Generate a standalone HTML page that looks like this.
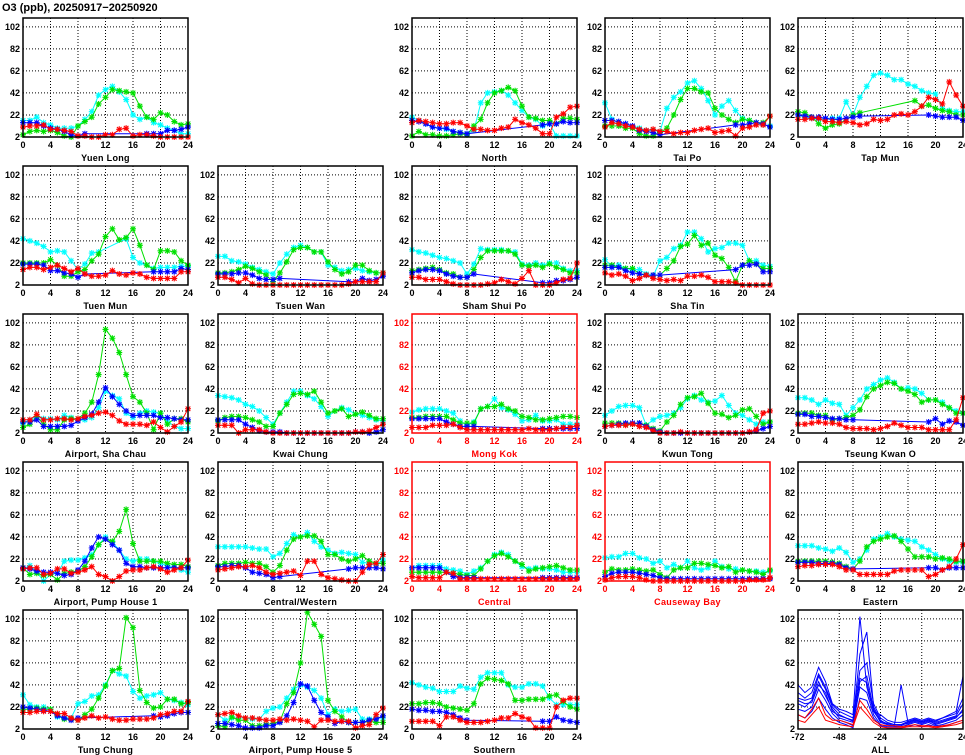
<!DOCTYPE html>
<html><head><meta charset="utf-8">
<style>
html,body{margin:0;padding:0;background:#fff;}
svg{display:block;font-family:"Liberation Sans",sans-serif;}
</style></head>
<body>
<svg id="chart" width="965" height="755" viewBox="0 0 965 755">
<text x="2" y="11" font-size="11" font-weight="bold" fill="#000">O3 (ppb), 20250917−20250920</text>
</svg>
<script>
const STATIONS = ["Yuen Long","North","Tai Po","Tap Mun","Tuen Mun","Tsuen Wan","Sham Shui Po","Sha Tin","Airport, Sha Chau","Kwai Chung","Mong Kok","Kwun Tong","Tseung Kwan O","Airport, Pump House 1","Central/Western","Central","Causeway Bay","Eastern","Tung Chung","Airport, Pump House 5","Southern"];
const ROADSIDE = ["Mong Kok","Central","Causeway Bay"];
const X_TICKS = [0,4,8,12,16,20,24];
const Y_TICKS = [2,22,42,62,82,102];
const ALL_X_TICKS = [-72,-48,-24,0,24];
const N = null;
const CYAN = [
[17,17,20,15,13,10,10,10,12,18,25,40,45,48,43,36,22,18,20,15,13,10,8,5,5],
[20,17,14,11,10,9,7,6,5,8,33,42,43,44,40,33,26,20,18,12,14,3,3,3,3],
[33,18,15,14,12,10,8,8,7,28,38,43,51,53,46,35,22,30,35,26,19,17,15,13,12],
[22,20,19,18,18,19,19,34,22,38,48,58,60,58,54,54,50,48,44,42,41,28,26,25,25],
[44,42,40,37,32,33,32,24,16,21,31,32,N,N,N,44,27,22,20,17,18,18,18,19,19],
[28,28,24,23,21,18,16,14,12,22,30,36,38,36,32,32,20,18,15,16,17,15,14,13,13],
[34,32,31,29,27,26,24,22,12,21,35,34,34,34,33,32,21,20,22,20,22,22,17,15,15],
[25,19,20,17,16,16,12,10,24,27,35,38,50,50,44,32,35,36,40,40,38,24,24,20,19],
[11,14,17,15,15,14,18,16,13,14,16,25,40,36,33,20,16,20,22,21,20,13,8,6,6],
[36,35,34,32,28,26,22,16,10,20,30,40,40,36,33,26,17,22,25,23,19,18,16,14,13],
[21,23,24,24,24,22,20,13,9,12,24,26,33,25,23,19,13,14,18,13,13,14,10,10,10],
[18,22,26,27,27,25,9,14,17,18,20,25,33,36,32,30,31,36,27,20,18,14,10,12,12],
[34,34,32,28,32,29,28,18,25,32,42,46,50,52,48,42,43,42,38,32,32,30,25,22,20],
[13,16,10,2,8,9,20,21,21,23,26,35,42,37,30,22,20,22,22,20,18,16,14,12,10],
[33,33,33,33,33,32,31,31,24,27,36,44,42,46,38,33,30,27,28,27,26,19,18,17,21],
[14,16,16,16,16,13,12,11,8,11,14,20,26,28,26,20,15,13,14,13,13,12,10,10,10],
[23,24,24,27,27,23,22,18,20,14,17,14,20,14,12,14,20,15,13,13,12,11,11,10,11],
[34,34,34,32,31,29,32,28,19,22,30,40,42,45,42,40,39,38,33,30,26,22,20,19,19],
[33,24,22,22,20,13,12,12,25,27,32,33,42,55,52,50,36,30,32,33,35,29,28,26,24],
[15,10,12,12,12,11,11,18,21,22,30,38,42,40,37,30,15,20,18,19,20,11,11,12,12],
[44,42,40,39,36,36,36,41,39,38,49,53,53,53,42,40,40,43,43,41,30,24,24,24,24]
];
const GREEN = [
[4,7,8,7,8,6,3,2,12,16,20,32,38,45,44,43,42,30,20,18,24,22,16,13,14],
[3,7,4,4,3,3,4,5,4,12,18,33,42,44,47,44,30,20,19,17,17,14,19,19,18],
[12,12,12,10,10,5,3,3,6,10,22,36,46,46,43,42,28,22,18,15,18,17,15,15,21],
[25,24,20,14,10,13,14,N,22,24,N,N,N,N,N,N,N,35,30,31,28,26,25,22,22],
[22,22,22,22,25,20,10,10,14,16,24,30,46,53,43,45,53,38,20,16,33,33,32,24,20],
[13,13,14,16,19,17,14,11,5,13,23,34,36,36,32,32,23,16,12,14,20,20,15,13,13],
[15,16,17,18,16,13,12,9,9,16,27,33,33,33,33,30,20,19,20,18,21,18,16,13,13],
[20,20,18,17,17,12,11,11,11,17,24,37,39,47,38,40,29,26,18,5,20,24,21,17,17],
[7,10,17,10,5,5,14,15,15,20,30,55,96,88,75,55,35,30,20,5,20,10,15,15,12],
[13,16,17,17,16,14,12,8,8,20,28,37,38,37,40,30,20,22,24,17,19,21,18,15,15],
[16,16,17,17,17,17,14,11,11,11,24,26,26,28,24,22,17,16,14,14,15,16,17,17,16],
[11,11,11,10,10,11,9,6,4,12,18,28,34,35,38,29,20,19,16,18,23,24,17,10,12],
[20,20,20,18,18,14,15,16,18,23,35,42,45,48,47,42,40,37,30,32,32,28,25,20,20],
[14,8,9,7,8,3,9,10,11,15,24,35,40,38,47,67,36,20,20,20,20,18,17,17,15],
[16,18,18,18,19,18,18,15,10,16,30,40,42,43,43,38,26,26,22,20,22,25,20,18,18],
[10,10,10,10,10,10,9,8,7,7,13,20,25,27,24,20,17,11,13,14,15,16,14,12,12],
[10,13,12,12,13,12,11,12,8,5,12,14,14,18,18,17,16,14,15,10,12,11,10,8,12],
[20,20,20,20,20,19,18,15,13,20,33,38,40,42,43,38,31,24,24,24,22,23,22,20,20],
[20,20,21,20,20,15,11,11,10,15,20,30,41,55,57,103,94,37,26,21,22,29,29,25,26],
[5,4,13,10,10,5,5,6,7,9,25,35,62,108,97,86,28,18,13,8,8,8,9,8,8],
[25,25,26,26,25,22,21,20,19,25,43,48,47,46,43,28,28,29,29,29,32,33,27,22,20]
];
const BLUE = [
[15,15,15,12,10,9,7,4,3,5,N,N,N,N,N,N,N,N,5,5,5,8,8,9,11],
[17,16,14,11,10,10,7,6,5,N,N,N,N,N,N,N,N,N,N,13,14,14,16,15,15],
[17,17,16,14,12,8,7,6,4,N,N,N,N,N,N,N,N,N,N,13,13,14,15,14,11],
[22,21,20,20,19,18,18,19,20,21,N,N,N,N,N,N,N,N,N,22,21,20,20,20,17],
[21,21,21,20,15,15,13,12,9,12,N,N,N,N,N,N,N,N,N,14,14,14,14,17,16],
[12,12,12,13,13,11,8,7,7,8,N,N,N,N,N,N,N,N,N,5,5,8,6,7,10],
[13,15,16,16,15,12,10,9,9,12,N,N,N,N,N,N,N,N,N,4,4,6,6,7,9],
[18,18,18,15,13,12,11,11,11,N,N,N,N,N,N,N,N,N,N,16,20,20,21,14,14],
[12,12,14,8,8,8,8,9,13,16,19,30,43,35,28,22,18,18,18,18,16,16,15,14,14],
[14,14,14,14,10,7,4,3,3,3,2,2,2,2,2,2,2,2,2,2,3,3,2,3,5],
[15,15,15,15,15,12,10,8,8,8,N,N,N,N,N,N,N,N,N,6,6,6,6,6,6],
[8,9,10,11,11,11,8,5,3,2,2,2,2,2,2,2,2,2,2,2,2,3,4,6,8],
[19,19,17,17,16,15,15,14,14,N,N,N,N,N,N,N,N,N,N,12,15,10,13,12,9],
[14,13,11,10,10,9,7,8,12,20,32,42,40,35,30,18,15,15,14,14,14,14,14,14,14],
[15,15,16,16,14,10,9,8,5,6,N,N,N,N,N,N,N,N,N,13,14,14,14,14,13],
[14,14,14,14,14,10,6,5,5,5,N,N,N,N,N,N,N,N,N,5,5,5,5,5,5],
[6,9,10,10,10,9,8,7,5,4,4,4,4,4,4,4,4,4,4,4,4,4,4,4,4],
[19,19,19,18,18,18,17,14,13,N,N,N,N,N,N,N,N,N,N,14,14,12,14,14,14],
[22,21,20,19,18,14,12,10,12,N,N,N,N,N,N,N,N,N,N,14,13,14,16,17,17],
[7,7,6,5,3,3,3,5,5,8,14,26,43,41,28,17,13,7,9,8,8,8,10,11,14],
[20,19,19,18,18,17,15,12,10,N,N,N,N,N,N,N,N,N,N,9,9,13,10,9,8]
];
const RED = [
[11,12,12,13,9,9,8,7,3,3,2,2,4,4,9,10,3,4,4,3,2,2,2,2,2],
[15,17,16,15,14,14,15,15,12,9,9,8,8,10,11,18,15,13,10,5,5,20,23,29,30],
[11,15,14,12,11,9,8,9,7,7,5,6,6,8,9,10,6,7,8,3,10,11,13,13,21],
[18,18,19,19,16,16,15,16,15,13,14,18,17,18,22,23,22,25,30,38,36,32,52,40,30],
[16,18,18,16,18,20,17,14,17,12,10,10,11,15,12,11,13,12,9,8,8,8,8,14,14],
[9,9,7,4,8,3,2,2,2,2,2,2,2,2,2,2,2,2,2,3,5,5,5,5,13],
[9,9,7,7,7,5,3,2,2,2,2,3,4,7,5,3,8,15,2,2,2,4,7,8,22],
[13,11,12,10,6,8,11,8,7,6,7,6,10,10,11,9,5,5,5,4,2,2,2,2,2],
[14,14,19,14,14,15,15,14,15,17,18,20,21,18,13,10,10,10,9,12,7,3,8,12,24],
[9,9,9,2,5,5,5,3,2,2,2,2,2,2,2,2,2,2,2,2,3,3,4,7,10],
[7,7,7,9,9,9,10,7,5,5,5,5,5,5,5,5,5,6,5,5,5,6,7,7,9],
[8,9,9,9,10,8,7,4,2,2,2,3,2,2,2,2,2,2,2,2,2,3,5,20,22],
[10,10,11,12,11,11,10,7,6,6,6,5,6,8,11,9,7,7,7,5,5,5,5,14,34],
[13,14,14,8,9,13,13,9,10,12,15,8,6,2,6,11,12,12,14,15,13,10,12,14,21],
[12,13,14,15,15,16,14,10,8,9,10,11,7,20,20,8,5,4,3,2,2,10,17,18,26],
[6,5,5,5,5,10,9,4,4,4,4,4,4,4,4,4,4,4,4,4,4,4,4,4,4],
[3,5,6,6,6,5,3,2,2,2,2,2,2,2,2,2,2,2,2,2,2,3,3,3,5],
[15,16,16,17,17,17,15,12,12,8,8,8,8,8,11,12,12,12,12,6,8,12,15,22,35],
[17,17,18,18,18,16,16,12,10,12,14,12,13,11,10,10,11,11,11,12,15,16,18,18,27],
[15,16,17,14,12,12,11,10,10,11,10,11,10,9,4,10,10,9,9,9,3,5,6,15,21],
[9,9,9,9,5,13,13,10,8,8,8,9,10,12,12,16,13,11,3,3,3,22,28,30,30]
];
const ALL_HOURS = [-72,-68,-64,-60,-56,-52,-48,-44,-40,-36,-32,-28,-24,-20,-16,-12,-8,-4,0,4,8,12,16,20,24];
const ALL_BLUE = [
[42,35,40,58,45,25,20,18,15,104,40,18,15,10,8,8,10,12,10,12,10,12,15,18,50],
[30,28,30,50,38,22,15,12,10,70,90,22,10,6,5,5,8,10,8,10,8,10,12,14,25],
[25,22,28,45,32,20,12,10,8,45,50,20,8,6,5,42,8,10,8,10,6,8,10,12,20],
[20,18,22,38,28,16,10,8,5,40,35,15,6,4,4,4,6,8,6,8,5,6,8,10,15],
[15,12,18,30,20,12,8,6,3,30,28,12,5,3,3,3,4,6,4,6,4,4,6,8,10],
[35,30,35,52,40,24,18,15,12,55,62,25,12,8,6,6,9,11,9,11,9,12,14,16,30],
[28,25,26,42,35,18,14,12,9,48,44,18,9,7,6,6,7,9,7,9,7,9,11,13,18]
];
const ALL_RED = [
[15,12,20,30,15,10,10,8,6,28,20,10,6,5,5,4,5,6,5,5,4,5,6,8,10],
[10,8,15,22,10,8,6,5,4,22,15,8,4,3,3,3,4,4,4,4,3,4,5,6,8]
];

// layout (not data)
const COL_X = [23,218,412,605,798];
const ROW_Y = [18,166,314,462,610];
const PW = 165, PH = 119, YMIN = 2, YMAX = 110;
const SLOTS = [[0,0],[0,2],[0,3],[0,4],[1,0],[1,1],[1,2],[1,3],[2,0],[2,1],[2,2],[2,3],[2,4],[3,0],[3,1],[3,2],[3,3],[3,4],[4,0],[4,1],[4,2]];
const COLORS = {c:"#00ffff", g:"#00e000", b:"#0000ff", r:"#ff0000"};

const NS = "http://www.w3.org/2000/svg";
const svg = document.getElementById("chart");
function mk(tag, attrs, parent){
  const e = document.createElementNS(NS, tag);
  for (const k in attrs) e.setAttribute(k, attrs[k]);
  (parent||svg).appendChild(e);
  return e;
}
function slug(s){return s.toLowerCase().replace(/[^a-z0-9]+/g,'-').replace(/^-|-$/g,'');}

function drawFrame(g, x0, y0, xMin, xMax, xticks, label, fc, name){
  const xs = v => x0 + (v - xMin)/(xMax - xMin)*PW;
  const ys = v => y0 + PH - (v - YMIN)/(YMAX - YMIN)*PH;
  mk("rect",{x:x0,y:y0,width:PW,height:PH,fill:"#fff"},g);
  xticks.forEach(t=>{ if(t>xMin && t<xMax){
    const l = mk("line",{x1:xs(t),x2:xs(t),y1:y0,y2:y0+PH,stroke:"#000","stroke-width":1,"stroke-dasharray":"1,2"},g);
    
    
  }});
  Y_TICKS.forEach(t=>{ if(t>YMIN){
    const l = mk("line",{x1:x0,x2:x0+PW,y1:ys(t),y2:ys(t),stroke:"#000","stroke-width":1,"stroke-dasharray":"1,2"},g);
    
    
  }});
  Y_TICKS.forEach(t=>{
    const tx = mk("text",{x:x0-3,y:ys(t)+3,"font-size":9,"font-weight":"bold","text-anchor":"end",fill:fc},g);
    tx.textContent = t;
    
    
  });
  xticks.forEach(t=>{
    const tx = mk("text",{x:xs(t),y:y0+PH+11,"font-size":9,"font-weight":"bold","text-anchor":"middle",fill:fc},g);
    tx.textContent = t;
    
    
  });
  const lb = mk("text",{x:x0+PW/2,y:y0+PH+24,"font-size":9,"font-weight":"bold","text-anchor":"middle",fill:fc,"letter-spacing":"0.3"},g);
  lb.textContent = label;
  
  
  return {xs, ys};
}
function drawSeries(g, vals, xvals, xs, ys, color, markers, name){
  const pts = [];
  vals.forEach((v,i)=>{ if(v!==null) pts.push([xs(xvals[i]), ys(v)]); });
  const pl = mk("polyline",{points:pts.map(p=>p[0].toFixed(1)+","+p[1].toFixed(1)).join(" "),fill:"none",stroke:color,"stroke-width":1},g);
  
  
  if(markers){
    pts.forEach(p=>{
      const s=3, d=2.3;
      const m = mk("path",{d:`M${p[0]-s},${p[1]}h${2*s}M${p[0]},${p[1]-s}v${2*s}M${p[0]-d},${p[1]-d}l${2*d},${2*d}M${p[0]-d},${p[1]+d}l${2*d},${-2*d}`,stroke:color,"stroke-width":1.1,fill:"none"},g);
      
      
    });
  }
}
const HOURS = Array.from({length:25},(_,i)=>i);
STATIONS.forEach((st,i)=>{
  const [r,c] = SLOTS[i];
  const x0 = COL_X[c], y0 = ROW_Y[r];
  const road = ROADSIDE.includes(st);
  const fc = road ? "#ff0000" : "#000";
  const g = mk("g",{});
  
  
  const {xs, ys} = drawFrame(g, x0, y0, 0, 24, X_TICKS, st, fc, slug(st));
  drawSeries(g, CYAN[i], HOURS, xs, ys, COLORS.c, true, 'cyan-series');
  drawSeries(g, GREEN[i], HOURS, xs, ys, COLORS.g, true, 'green-series');
  drawSeries(g, BLUE[i], HOURS, xs, ys, COLORS.b, true, 'blue-series');
  drawSeries(g, RED[i], HOURS, xs, ys, COLORS.r, true, 'red-series');
  const fr = mk("rect",{x:x0,y:y0,width:PW,height:PH,fill:"none",stroke:fc,"stroke-width":1.5},g);
  
  
});
// ALL panel
(function(){
  const x0 = COL_X[4], y0 = ROW_Y[4];
  const g = mk("g",{});
  
  
  const {xs, ys} = drawFrame(g, x0, y0, -72, 24, ALL_X_TICKS, "ALL", "#000", "all");
  ALL_BLUE.forEach(s=>drawSeries(g, s, ALL_HOURS, xs, ys, COLORS.b, false, 'all-blue-series'));
  ALL_RED.forEach(s=>drawSeries(g, s, ALL_HOURS, xs, ys, COLORS.r, false, 'all-red-series'));
  const fr = mk("rect",{x:x0,y:y0,width:PW,height:PH,fill:"none",stroke:"#000","stroke-width":1.5},g);
  
  
})();
</script>
</body></html>
